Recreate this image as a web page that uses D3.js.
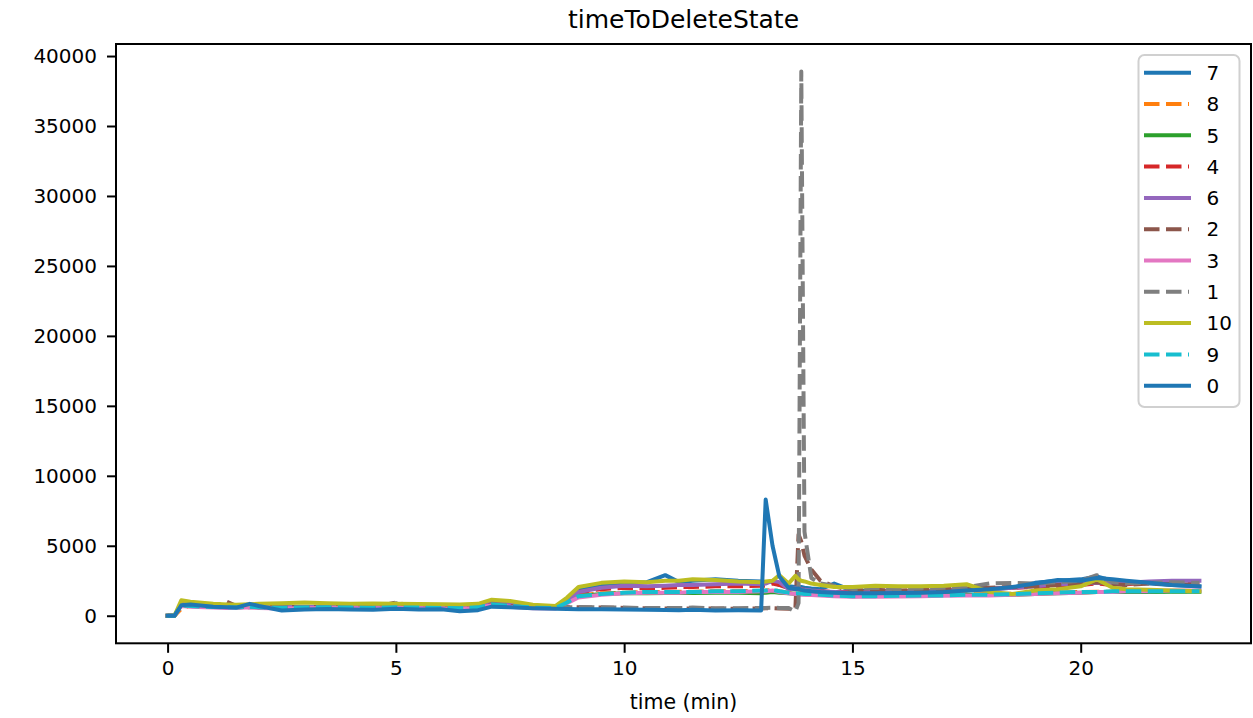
<!DOCTYPE html>
<html>
<head>
<meta charset="utf-8">
<script src="https://cdn.jsdelivr.net/npm/d3@7"></script>
<style>
  html, body { margin: 0; padding: 0; background: #fff; }
  svg { display: block; font-family: "DejaVu Sans", sans-serif; }
</style>
</head>
<body>
<svg id="chart" width="1253" height="718"></svg>
<script>
const title = "timeToDeleteState";
const xLabel = "time (min)";
const xTicks = [0, 5, 10, 15, 20];
const yTicks = [0, 5000, 10000, 15000, 20000, 25000, 30000, 35000, 40000];

const times = [0, 0.15, 0.3, 0.5, 1, 1.3, 1.5, 1.8, 2, 2.5, 3, 3.5, 4, 4.5, 5, 5.5,
  6, 6.4, 6.8, 7.1, 7.5, 8, 8.5, 8.75, 9, 9.5, 10, 10.5, 10.9, 11.2, 11.5, 12,
  12.5, 13, 13.1, 13.25, 13.4, 13.6, 13.75, 13.82, 13.88, 13.95, 14.1, 14.3, 14.6, 15,
  15.5, 16, 16.5, 17, 17.5, 18, 18.5, 19, 19.5, 20, 20.35, 20.7, 21, 21.5, 22, 22.6];

const seriesNames = ["7", "8", "5", "4", "6", "2", "3", "1", "10", "9", "0"];
const seriesDashed = [false, true, false, true, false, true, false, true, false, true, false];
const seriesColors = ["#1f77b4", "#ff7f0e", "#2ca02c", "#d62728", "#9467bd", "#8c564b",
  "#e377c2", "#7f7f7f", "#bcbd22", "#17becf", "#1f77b4"];

const s7 = [0, 0, 800, 850, 700, 650, 620, 750, 650, 550, 600, 620, 600, 580, 620, 600,
  580, 500, 650, 1000, 850, 650, 600, 1200, 1800, 2150, 2300, 2400, 2900, 2400, 2500, 2600,
  2500, 2450, 2400, 2450, 2200, 2100, 2050, 2000, 2050, 2000, 1950, 1900, 2300, 1800,
  1750, 1750, 1700, 1800, 1800, 1900, 2000, 2350, 2500, 2600, 2800, 2500, 2400, 2300, 2200, 2100];
const s8 = [0, 0, 500, 750, 650, 620, 600, 670, 620, 580, 600, 620, 600, 580, 620, 600,
  580, 560, 620, 830, 730, 610, 570, 980, 1450, 1600, 1650, 1700, 1700, 1720, 1720, 1750,
  1750, 1780, 1800, 1850, 1750, 1650, 1620, 1620, 1600, 1580, 1560, 1520, 1480, 1450,
  1450, 1480, 1500, 1500, 1520, 1550, 1580, 1600, 1650, 1700, 1720, 1720, 1750, 1750, 1750, 1750];
const s5 = [0, 0, 780, 720, 640, 600, 590, 660, 610, 570, 590, 610, 590, 570, 610, 590,
  570, 550, 610, 820, 720, 600, 560, 1000, 1400, 1550, 1600, 1600, 1620, 1620, 1630, 1650,
  1650, 1600, 1650, 1700, 1650, 1600, 1580, 1580, 1560, 1540, 1520, 1500, 1450, 1400,
  1420, 1450, 1450, 1480, 1500, 1480, 1500, 1550, 1600, 1650, 1700, 1700, 1700, 1700, 1720, 1720];
const s4 = [0, 0, 800, 750, 650, 620, 600, 680, 620, 580, 600, 620, 600, 580, 620, 600,
  580, 560, 620, 850, 750, 620, 580, 1100, 1700, 1900, 2000, 1950, 2000, 2050, 2050, 2100,
  2100, 2150, 2150, 2300, 2200, 1950, 1900, 1900, 1900, 1850, 1800, 1750, 1700, 1700,
  1700, 1750, 1750, 1800, 1850, 1950, 2000, 2050, 2150, 2200, 2300, 2200, 2250, 2350, 2300, 2300];
const s6 = [0, 0, 850, 800, 700, 650, 620, 700, 650, 600, 620, 640, 620, 600, 650, 620,
  600, 580, 650, 900, 800, 650, 600, 1000, 1700, 2000, 2150, 2100, 2150, 2200, 2200, 2250,
  2300, 2250, 2300, 2500, 2400, 1900, 1950, 1950, 1900, 1850, 1800, 1750, 1700, 1650,
  1700, 1700, 1750, 1800, 1850, 1900, 2000, 2100, 2250, 2300, 2350, 2300, 2350, 2450, 2500, 2500];
const s2 = [0, 0, 750, 700, 650, 1000, 700, 600, 620, 650, 600, 650, 620, 600, 950, 600,
  550, 600, 620, 800, 700, 620, 580, 620, 600, 580, 560, 540, 520, 540, 500, 520,
  500, 520, 530, 540, 520, 500, 500, 5800, 5300, 4300, 3300, 2500, 2100, 1800,
  1850, 1800, 1850, 1900, 1950, 2000, 2050, 2100, 2200, 2300, 2400, 2250, 2200, 2300, 2250, 2200];
const s3 = [0, 0, 700, 650, 580, 560, 550, 600, 560, 520, 540, 560, 540, 520, 560, 540,
  520, 500, 560, 750, 650, 540, 520, 900, 1300, 1500, 1600, 1650, 1650, 1650, 1700, 1700,
  1700, 1750, 1750, 1800, 1700, 1600, 1550, 1550, 1500, 1500, 1480, 1450, 1400, 1350,
  1350, 1380, 1400, 1420, 1450, 1450, 1500, 1550, 1600, 1650, 1700, 1700, 1750, 1750, 1800, 1800];
const s1 = [0, 0, 700, 750, 650, 700, 600, 650, 600, 620, 650, 600, 580, 600, 900, 620,
  600, 550, 600, 850, 750, 600, 550, 600, 620, 600, 580, 550, 560, 550, 580, 520,
  540, 560, 560, 570, 560, 550, 300, 900, 38900, 6000, 2700, 2300, 2150, 1900,
  2000, 1900, 1950, 2000, 2050, 2300, 2350, 2300, 2400, 2500, 2900, 2400, 2300, 2350, 2400, 2350];
const s10 = [0, 0, 1100, 1000, 850, 800, 780, 820, 850, 900, 950, 900, 850, 880, 850, 830,
  820, 800, 850, 1150, 1050, 780, 700, 1300, 2050, 2350, 2450, 2400, 2500, 2500, 2600, 2550,
  2450, 2400, 2450, 2500, 2900, 2300, 2850, 2600, 2500, 2450, 2300, 2200, 2050, 2050,
  2150, 2100, 2100, 2150, 2250, 1700, 1550, 1800, 1900, 2100, 2600, 2000, 1900, 1850, 1800, 1750];
const s9 = [0, 0, 750, 700, 620, 600, 580, 650, 600, 560, 580, 600, 580, 560, 600, 580,
  560, 540, 600, 800, 700, 580, 550, 950, 1400, 1550, 1650, 1700, 1700, 1700, 1700, 1750,
  1750, 1800, 1800, 1850, 1750, 1650, 1600, 1600, 1580, 1550, 1550, 1500, 1450, 1400,
  1400, 1420, 1450, 1450, 1500, 1500, 1550, 1600, 1650, 1700, 1700, 1750, 1750, 1750, 1750, 1750];
const s0 = [0, 0, 750, 800, 650, 600, 580, 850, 700, 380, 450, 480, 450, 430, 500, 450,
  470, 320, 400, 650, 600, 540, 500, 480, 470, 460, 440, 420, 410, 400, 420, 380,
  390, 380, 8300, 5000, 2800, 2000, 1900, 1950, 1850, 1800, 1750, 1700, 1650, 1600,
  1600, 1620, 1650, 1700, 1800, 1900, 2050, 2300, 2550, 2500, 2700, 2600, 2500, 2350, 2200, 2100];

const seriesValues = [s7, s8, s5, s4, s6, s2, s3, s1, s10, s9, s0];

(function () {
const svg = d3.select("#chart");
const W = 1253, H = 718;
const mLeft = 116, mRight = 1251, mTop = 44, mBottom = 643.3;

const x = d3.scaleLinear().domain([-1.13, 23.73]).range([mLeft, mRight]);
const y = d3.scaleLinear().domain([-1970, 40860]).range([mBottom, mTop]);

svg.append("rect").attr("width", W).attr("height", H).attr("fill", "#fff");

const line = d3.line().x((d, i) => x(times[i])).y(d => y(d));
const lw = 4;
const dash = "15.5,6.5";
seriesValues.forEach((vals, k) => {
  svg.append("path")
    .attr("d", line(vals))
    .attr("fill", "none")
    .attr("stroke", seriesColors[k])
    .attr("stroke-width", lw)
    .attr("stroke-linejoin", "round")
    .attr("stroke-linecap", seriesDashed[k] ? "butt" : "square")
    .attr("stroke-dasharray", seriesDashed[k] ? dash : null);
});

const xAxis = d3.axisBottom(x).tickValues(xTicks).tickSize(9.5).tickPadding(8).tickFormat(d3.format("d"));
const yAxis = d3.axisLeft(y).tickValues(yTicks).tickSize(9).tickPadding(10).tickFormat(d3.format("d"));

const gx = svg.append("g").attr("transform", `translate(0,${mBottom})`).call(xAxis);
const gy = svg.append("g").attr("transform", `translate(${mLeft},0)`).call(yAxis);
[gx, gy].forEach(g => {
  g.select(".domain").remove();
  g.selectAll(".tick line").attr("stroke", "#000").attr("stroke-width", 2);
  g.selectAll(".tick text").attr("fill", "#000").style("font-size", "20px")
    .style("font-family", "'DejaVu Sans', sans-serif");
});

svg.append("rect")
  .attr("x", mLeft).attr("y", mTop)
  .attr("width", mRight - mLeft).attr("height", mBottom - mTop)
  .attr("fill", "none").attr("stroke", "#000").attr("stroke-width", 2);

svg.append("text").attr("x", (mLeft + mRight) / 2).attr("y", 28)
  .attr("text-anchor", "middle").style("font-size", "25px").attr("fill", "#000").text(title);
svg.append("text").attr("x", (mLeft + mRight) / 2).attr("y", 709)
  .attr("text-anchor", "middle").style("font-size", "20.5px").attr("fill", "#000").text(xLabel);

const lg = svg.append("g");
lg.append("rect")
  .attr("x", 1138.5).attr("y", 55).attr("width", 101).attr("height", 352)
  .attr("rx", 6).attr("ry", 6)
  .attr("fill", "#fff").attr("fill-opacity", 0.8)
  .attr("stroke", "#d0d0d0").attr("stroke-width", 2);
seriesNames.forEach((name, k) => {
  const yy = 72.7 + k * 31.3;
  lg.append("line")
    .attr("x1", 1144).attr("x2", seriesDashed[k] ? 1189 : 1191).attr("y1", yy).attr("y2", yy)
    .attr("stroke", seriesColors[k]).attr("stroke-width", lw)
    .attr("stroke-dasharray", seriesDashed[k] ? dash : null);
  lg.append("text").attr("x", 1206.5).attr("y", yy).attr("dy", "0.36em")
    .style("font-size", "20px").attr("fill", "#000").text(name);
});
})();
</script>
</body>
</html>
